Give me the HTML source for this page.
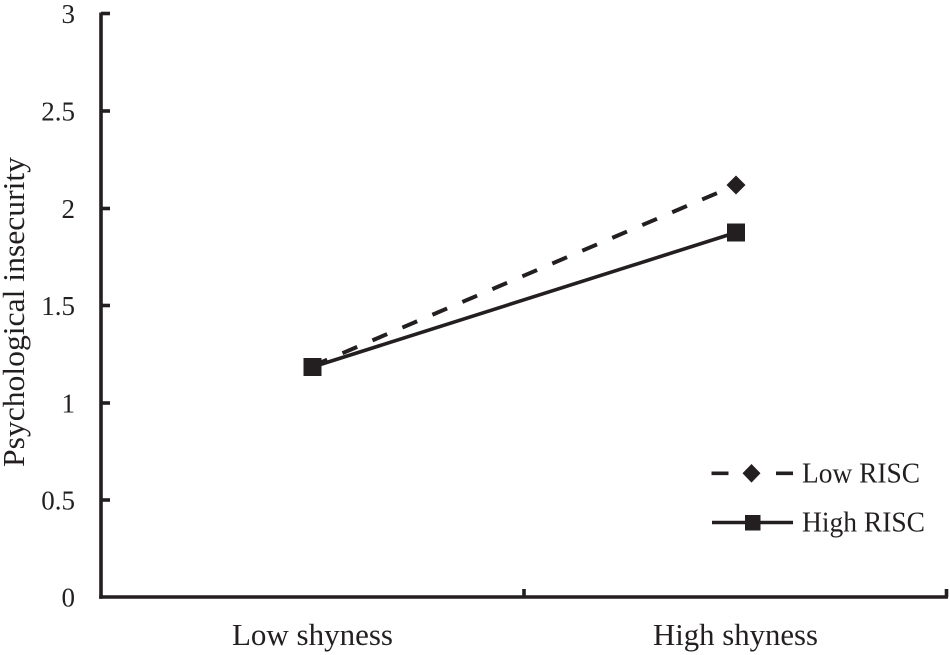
<!DOCTYPE html>
<html>
<head>
<meta charset="utf-8">
<style>
  html, body { margin: 0; padding: 0; background: #ffffff; }
  svg { display: block; }
  text { font-family: "Liberation Serif", "Times New Roman", serif; fill: #231f20; }
</style>
</head>
<body>
<svg width="950" height="655" viewBox="0 0 950 655" xmlns="http://www.w3.org/2000/svg">
  <rect x="0" y="0" width="950" height="655" fill="#ffffff"/>

  <!-- Axes -->
  <g stroke="#231f20" stroke-width="3.6" fill="none" stroke-linecap="butt">
    <line x1="101" y1="12.5" x2="101" y2="598.8"/>
    <line x1="99.2" y1="597" x2="948" y2="597"/>
    <!-- y ticks -->
    <line x1="101" y1="13.5" x2="110" y2="13.5"/>
    <line x1="101" y1="111" x2="110" y2="111"/>
    <line x1="101" y1="208.5" x2="110" y2="208.5"/>
    <line x1="101" y1="305.5" x2="110" y2="305.5"/>
    <line x1="101" y1="403" x2="110" y2="403"/>
    <line x1="101" y1="500" x2="110" y2="500"/>
    <!-- x ticks -->
    <line x1="524" y1="589" x2="524" y2="597"/>
    <line x1="946.5" y1="589" x2="946.5" y2="597"/>
  </g>

  <!-- Y tick labels -->
  <g font-family="Liberation Serif, serif" font-size="27" text-anchor="end">
    <text x="75" y="23">3</text>
    <text x="75" y="120.5">2.5</text>
    <text x="75" y="218">2</text>
    <text x="75" y="315">1.5</text>
    <text x="75" y="412.5">1</text>
    <text x="75" y="509.5">0.5</text>
    <text x="75" y="606.5">0</text>
  </g>

  <!-- Y axis title -->
  <text transform="translate(24,312) rotate(-90)" font-family="Liberation Serif, serif" font-size="31" text-anchor="middle" textLength="310" lengthAdjust="spacingAndGlyphs">Psychological insecurity</text>

  <!-- X labels -->
  <text x="232" y="645" font-family="Liberation Serif, serif" font-size="31" textLength="161" lengthAdjust="spacingAndGlyphs">Low shyness</text>
  <text x="653" y="645" font-family="Liberation Serif, serif" font-size="31" textLength="165" lengthAdjust="spacingAndGlyphs">High shyness</text>

  <!-- Low RISC (dashed, diamond) -->
  <line x1="312.5" y1="366" x2="736" y2="185" stroke="#231f20" stroke-width="4" stroke-dasharray="16 16.6" fill="none"/>
  <!-- High RISC (solid, square) -->
  <line x1="312.5" y1="367" x2="736" y2="232.5" stroke="#231f20" stroke-width="3.6" fill="none"/>

  <!-- markers -->
  <rect x="303.5" y="358" width="18" height="18" fill="#231f20"/>
  <rect x="727" y="223.5" width="18" height="18" fill="#231f20"/>
  <polygon points="736,175.5 745.5,185 736,194.5 726.5,185" fill="#231f20"/>

  <!-- Legend -->
  <g stroke="#231f20" stroke-width="3.6">
    <line x1="711.5" y1="473.3" x2="728.5" y2="473.3"/>
    <line x1="776" y1="473.3" x2="793" y2="473.3"/>
    <line x1="712" y1="522.5" x2="793" y2="522.5"/>
  </g>
  <polygon points="751.5,464 760.5,473.3 751.5,482.6 742.5,473.3" fill="#231f20"/>
  <rect x="745" y="515" width="15.5" height="15.5" fill="#231f20"/>
  <text x="802" y="482.5" font-family="Liberation Serif, serif" font-size="28" textLength="118" lengthAdjust="spacingAndGlyphs">Low RISC</text>
  <text x="802" y="531.5" font-family="Liberation Serif, serif" font-size="28" textLength="123" lengthAdjust="spacingAndGlyphs">High RISC</text>
</svg>
</body>
</html>
